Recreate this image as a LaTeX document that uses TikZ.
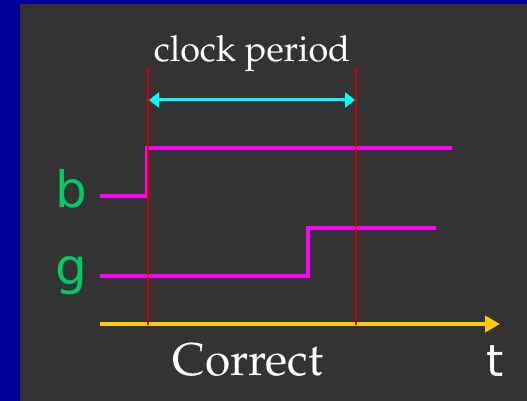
\documentclass[tikz,border=0pt]{standalone}
\usepackage[T1]{fontenc}
\usepackage{fontspec}
\usetikzlibrary{arrows.meta}
\newfontfamily\labelsans{DejaVu Sans}
\newcommand\palfont{\fontencoding{T1}\fontfamily{ppl}\selectfont}
\definecolor{slidebg}{HTML}{333333}
\definecolor{slideblue}{HTML}{000099}
\definecolor{sigmag}{HTML}{FF00FF}
\definecolor{edgered}{HTML}{CC0000}
\definecolor{axisgold}{HTML}{FFCC00}
\definecolor{periodcyan}{HTML}{00FFFF}
\definecolor{namegreen}{HTML}{00CC66}
\tikzset{
  signal/.style={draw=sigmag, line width=3.4pt, line join=miter},
  edge/.style={draw=edgered, line width=2pt},
  timeaxis/.style={draw=axisgold, line width=3.6pt, -{Triangle[length=15pt,width=16pt]}},
  period/.style={draw=periodcyan, line width=3pt, {Triangle[length=10pt,width=15pt]}-{Triangle[length=10pt,width=15pt]}},
  signame/.style={text=namegreen, font=\labelsans\fontsize{50}{56}\selectfont, inner sep=0pt, anchor=base},
  caption/.style={text=white, inner sep=0pt, anchor=base},
}
\begin{document}
\begin{tikzpicture}[x=1pt, y=-1pt]
  % slide background
  \fill[slideblue] (0,0) rectangle (527,401);
  \fill[slidebg] (20,4) rectangle (527,401);
  \useasboundingbox (0,0) rectangle (527,401);

  % clock edge markers
  \coordinate (e1top) at (148,68);
  \coordinate (e1bot) at (148,325);
  \coordinate (e2top) at (356,68);
  \coordinate (e2bot) at (356,325);

  % signal b
  \coordinate (b0) at (100,196);
  \coordinate (b1) at (147,196);
  \coordinate (b2) at (147,148);
  \coordinate (b3) at (452,148);
  \draw[signal] (b0) -- (b1) -- (b2) -- (b3);

  % signal g
  \coordinate (g0) at (100,276);
  \coordinate (g1) at (308,276);
  \coordinate (g2) at (308,228);
  \coordinate (g3) at (436,228);
  \draw[signal] (g0) -- (g1) -- (g2) -- (g3);

  % time axis
  \coordinate (t0) at (100,324);
  \coordinate (t1) at (500,324);
  \draw[timeaxis] (t0) -- (t1);

  \draw[edge] (e1top) -- (e1bot);
  \draw[edge] (e2top) -- (e2bot);

  % clock period span
  \coordinate (p0) at (149,100);
  \coordinate (p1) at (355,100);
  \draw[period] (p0) -- (p1);

  % labels
  \node[caption, font=\palfont\fontsize{36}{40}\selectfont] (clk) at (252,62) {clock period};
  \node[caption, font=\palfont\fontsize{46}{50}\selectfont] (res) at (248,375) {Correct};
  \node[caption, font=\labelsans\fontsize{44}{50}\selectfont] (tl) at (495,376) {t};
  \node[signame] (bl) at (71,207) {b};
  \node[signame] (gl) at (71,284) {g};
\end{tikzpicture}
\end{document}
